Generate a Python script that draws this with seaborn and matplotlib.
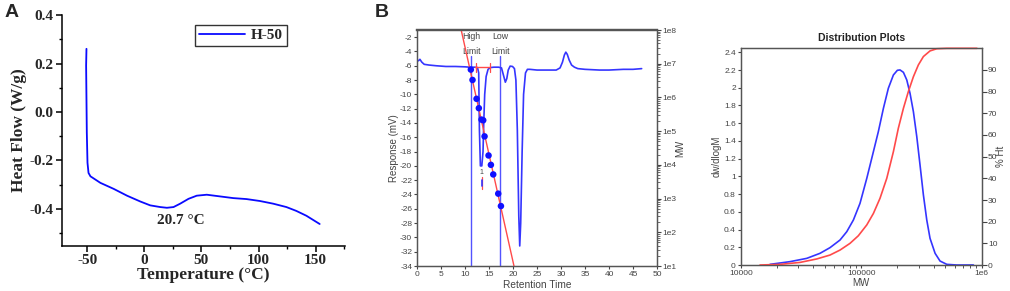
import numpy as np
import seaborn as sns
import matplotlib.pyplot as plt
from matplotlib.ticker import MultipleLocator, FixedLocator, FuncFormatter, LogLocator, NullFormatter

# ---- panel A: DSC curve of H-50
temp = [-50.6, -50.9, -50.3, -49.7, -48.8, -47.1, -38.4, -26.7, -15.1, -3.5, 5.2, 14.0,
        19.8, 25.6, 31.4, 38.7, 45.9, 54.7, 66.3, 77.9, 89.5, 101.2, 112.8, 124.4,
        133.1, 141.9, 153.5]
heat_flow = [0.261, 0.192, -0.085, -0.21, -0.252, -0.266, -0.293, -0.318, -0.346, -0.370,
             -0.386, -0.393, -0.396, -0.393, -0.379, -0.359, -0.346, -0.342, -0.349,
             -0.356, -0.360, -0.368, -0.379, -0.393, -0.409, -0.429, -0.463]
tg_label = "20.7 \u00b0C"

# ---- panel B left: GPC chromatogram
ret_time = [0, 0.3, 0.6, 1.0, 1.5, 2.5, 4, 6, 8, 10, 11, 12, 12.6, 12.85, 13.0, 13.2, 13.5,
            13.75, 13.9, 14.1, 14.4, 14.8, 15.3, 16, 17, 17.6, 18.0, 18.4, 18.7, 19.0, 19.4,
            19.9, 20.3, 20.6, 20.9, 21.2, 21.4, 21.6, 21.9, 22.2, 22.6, 23.0, 23.5, 25, 27,
            29, 29.8, 30.3, 30.7, 31.0, 31.3, 31.7, 32.2, 32.8, 33.5, 35, 38, 40, 43, 45, 46.8]
response = [-5.3, -5.3, -5.1, -5.5, -5.8, -5.9, -6.0, -6.1, -6.1, -6.15, -6.2, -6.2, -6.25,
            -7.0, -15, -20, -20, -18, -14, -10, -7.5, -6.5, -6.25, -6.2, -6.2, -6.3, -7.3,
            -8.3, -7.8, -6.6, -6.05, -6.1, -6.4, -8, -15, -27, -31.2, -28, -18, -10, -7,
            -6.5, -6.5, -6.6, -6.6, -6.6, -6.3, -5.5, -4.5, -4.1, -4.4, -5.2, -5.9, -6.2,
            -6.4, -6.5, -6.6, -6.6, -6.5, -6.5, -6.4]
# calibration standards (log MW axis)
cal_time = [11.21, 11.56, 12.40, 12.88, 13.44, 13.79, 14.07, 14.90, 15.39, 15.88, 16.92, 17.48]
cal_mw = [6.7e6, 3.3e6, 9.1e5, 4.8e5, 2.2e5, 2.1e5, 7.0e4, 1.9e4, 1.0e4, 5.2e3, 1.4e3, 6.0e2]
fit_time = [9.2, 20.2]
fit_mw = [1.0e8, 1.0e1]
limit_time = [11.2, 17.3]
limit_names = ["High\nLimit", "Low\nLimit"]

# ---- panel B right: distribution plots
mw_dist = [17500, 25650, 35300, 45500, 55080, 66680, 75860, 86100, 97700, 111200, 126200,
           138700, 152800, 167900, 184900, 199500, 209900, 223900, 238800, 254100, 271000,
           289100, 307600, 328100, 349900, 372400, 410200, 450800, 512900, 620900, 853100]
dwdlogm = [0.0075, 0.038, 0.075, 0.132, 0.196, 0.282, 0.376, 0.508, 0.696, 0.978, 1.279,
           1.505, 1.768, 1.994, 2.144, 2.197, 2.201, 2.174, 2.088, 1.937, 1.730, 1.448,
           1.129, 0.790, 0.508, 0.301, 0.132, 0.045, 0.0075, 0.0, 0.0]
mw_cum = [14450, 21180, 31050, 42760, 55080, 66680, 80720, 94620, 111200, 126200, 143200,
          162900, 184900, 203200, 223900, 246000, 271000, 297800, 328100, 372400, 423600,
          512900, 912000]
cum_pct = [0, 0.3, 1.2, 2.8, 4.6, 6.9, 10.0, 13.5, 18.5, 23.8, 30.8, 40.0, 52.3, 63.1, 72.3,
           80.0, 86.9, 92.3, 96.2, 98.8, 99.8, 100, 100]

sns.set_theme(style="ticks")
plt.rcParams['font.family'] = ['Liberation Sans', 'DejaVu Sans']
plt.rcParams['axes.unicode_minus'] = False

fig = plt.figure(figsize=(10.1, 2.91), dpi=100)

# ================= A =================
serif = dict(family=['Liberation Serif', 'DejaVu Serif'], weight='bold')
axA = fig.add_axes([0.0614, 0.1546, 0.280, 0.794])
sns.lineplot(x=temp, y=heat_flow, ax=axA, color="#0a0aff", lw=1.3, sort=False,
             estimator=None, label="H-50")
axA.set_xlim(-72, 175.5)
axA.set_ylim(-0.554, 0.401)
axA.xaxis.set_major_locator(MultipleLocator(50))
axA.xaxis.set_minor_locator(MultipleLocator(25))
axA.yaxis.set_major_locator(MultipleLocator(0.2))
axA.yaxis.set_minor_locator(MultipleLocator(0.1))
axA.yaxis.set_major_formatter(FuncFormatter(lambda v, p: f"{v:.1f}"))
for s in ["top", "right"]:
    axA.spines[s].set_visible(False)
for s in ["left", "bottom"]:
    axA.spines[s].set_linewidth(1.1)
    axA.spines[s].set_color("black")
axA.tick_params(which='major', direction='out', length=4, width=1.1, color='black', pad=2)
axA.tick_params(which='minor', direction='out', length=2.5, width=1.0, color='black')
for lab in axA.get_xticklabels() + axA.get_yticklabels():
    lab.set_fontfamily(serif['family'])
    lab.set_fontweight('bold')
    lab.set_fontsize(11)
axA.set_xlabel("Temperature (\u00b0C)", fontsize=12.5, labelpad=0, **serif)
axA.set_ylabel("Heat Flow (W/g)", fontsize=12.5, labelpad=2, **serif)
axA.text(32.3, -0.449, tg_label, ha='center', va='center', fontsize=11, **serif)
leg = axA.legend(loc='upper left', bbox_to_anchor=(0.47, 0.957), borderaxespad=0,
                 frameon=True, fancybox=False, handlelength=3.0, handletextpad=0.4,
                 borderpad=0.25, prop=dict(family=serif['family'], weight='bold', size=11))
leg.get_frame().set_edgecolor('black')
leg.get_frame().set_linewidth(1.0)

fig.text(0.004, 0.985, "A", fontsize=14, fontweight='bold', va='top', ha='left')
fig.text(0.371, 0.985, "B", fontsize=14, fontweight='bold', va='top', ha='left')

# ================= B left =================
gray = "#555555"
blue = "#3535ff"
red = "#ff4a4a"
axB = fig.add_axes([0.4129, 0.0859, 0.2376, 0.811])
sns.lineplot(x=ret_time, y=response, ax=axB, color=blue, lw=1.2, sort=False, estimator=None)
for t in limit_time:
    axB.plot([t, t], [-34, -4.6], color=blue, lw=1.0, alpha=0.85)
for t, name in zip(limit_time, limit_names):
    axB.text(t + 0.1, -3.0, name, ha='center', va='center', fontsize=6.3, color="#444444",
             linespacing=1.9)
# peak baseline markers
axB.plot([12.1, 15.2], [-6.2, -6.2], color=red, lw=1.0)
for t in [12.3, 15.1]:
    axB.plot([t, t], [-5.6, -6.9], color=red, lw=0.9)
axB.plot([13.45, 13.45], [-21.6, -23.3], color=red, lw=0.9)
axB.plot([13.45, 13.45], [-22.0, -22.8], color=blue, lw=1.2)
axB.text(13.4, -20.9, "1", fontsize=5, color="#444444", ha='center', va='center')
axB.set_xlim(0, 50)
axB.set_ylim(-34, -1.0)
axB.xaxis.set_major_locator(MultipleLocator(5))
axB.yaxis.set_major_locator(FixedLocator(np.arange(-34, -1, 2)))
axB.tick_params(labelsize=6, colors="#444444", length=2.5, width=0.8, pad=1)
for s in axB.spines.values():
    s.set_color(gray)
    s.set_linewidth(0.9)
axB.spines["top"].set_linewidth(1.6)
axB.set_xlabel("Retention Time", fontsize=7.3, color="#444444", labelpad=1.5)
axB.set_ylabel("Response (mV)", fontsize=7, color="#444444", labelpad=1)

axB2 = axB.twinx()
axB2.set_yscale('log')
sns.lineplot(x=fit_time, y=fit_mw, ax=axB2, color=red, lw=1.0)
sns.scatterplot(x=cal_time, y=cal_mw, ax=axB2, color="#1010ff", s=22, edgecolor="none",
                zorder=5)
axB2.set_ylim(10, 1e8)
axB2.set_xlim(0, 50)
axB2.set_xlabel("")
axB2.yaxis.set_major_locator(LogLocator(base=10, numticks=10))
axB2.yaxis.set_minor_locator(LogLocator(base=10, subs=np.arange(2, 10), numticks=20))
axB2.yaxis.set_minor_formatter(NullFormatter())
axB2.yaxis.set_major_formatter(FuncFormatter(lambda v, p: f"1e{int(round(np.log10(v)))}"))
axB2.tick_params(which='major', labelsize=6, colors="#444444", length=3, width=0.8, pad=1)
axB2.tick_params(which='minor', length=2.5, width=0.6, color="#555555")
for s in axB2.spines.values():
    s.set_color(gray)
    s.set_linewidth(0.9)
axB2.spines["top"].set_linewidth(1.6)
axB2.set_ylabel("MW", fontsize=7, color="#444444")
axB2.yaxis.set_label_coords(1.075, 0.5)

# ================= B right =================
axC = fig.add_axes([0.7334, 0.0893, 0.2386, 0.7447])
axC.set_xscale('log')
sns.lineplot(x=mw_dist, y=dwdlogm, ax=axC, color=blue, lw=1.2)
axC.set_xlim(1e4, 1e6)
axC.set_ylim(0, 2.445)
axC.yaxis.set_major_locator(FixedLocator(np.arange(0, 2.41, 0.2)))
axC.yaxis.set_major_formatter(FuncFormatter(lambda v, p: f"{v:g}"))
axC.xaxis.set_major_locator(FixedLocator([1e4, 1e5, 1e6]))
axC.xaxis.set_major_formatter(FuncFormatter(lambda v, p: {4: "10000", 5: "100000", 6: "1e6"}[int(round(np.log10(v)))]))
axC.xaxis.set_minor_locator(LogLocator(base=10, subs=np.arange(2, 10), numticks=10))
axC.xaxis.set_minor_formatter(NullFormatter())
axC.tick_params(which='major', labelsize=6, colors="#444444", length=2.5, width=0.8, pad=1)
axC.tick_params(which='minor', length=2.5, width=0.7, color=gray)
for s in axC.spines.values():
    s.set_color(gray)
    s.set_linewidth(0.9)
axC.set_xlabel("MW", fontsize=7, color="#444444", labelpad=1)
axC.set_ylabel("dw/dlogM", fontsize=7, color="#444444", labelpad=2)
axC.set_title("Distribution Plots", fontsize=7.5, fontweight='bold', color="#222222", pad=5)

axC2 = axC.twinx()
sns.lineplot(x=mw_cum, y=cum_pct, ax=axC2, color=red, lw=1.2, clip_on=False)
axC2.set_ylim(0, 100)
axC2.set_xlabel("")
axC2.yaxis.set_major_locator(FixedLocator(np.arange(0, 91, 10)))
axC2.tick_params(labelsize=6, colors="#444444", length=3.5, width=0.8, pad=1)
for s in axC2.spines.values():
    s.set_color(gray)
    s.set_linewidth(0.9)
axC2.set_ylabel("% Ht", fontsize=7, color="#444444", labelpad=-1)

# empty offset texts sit at the figure edge; hide them
for ax in [axA, axB, axB2, axC, axC2]:
    ax.xaxis.offsetText.set_visible(False)
    ax.yaxis.offsetText.set_visible(False)

fig.savefig("out.png", dpi=100)
